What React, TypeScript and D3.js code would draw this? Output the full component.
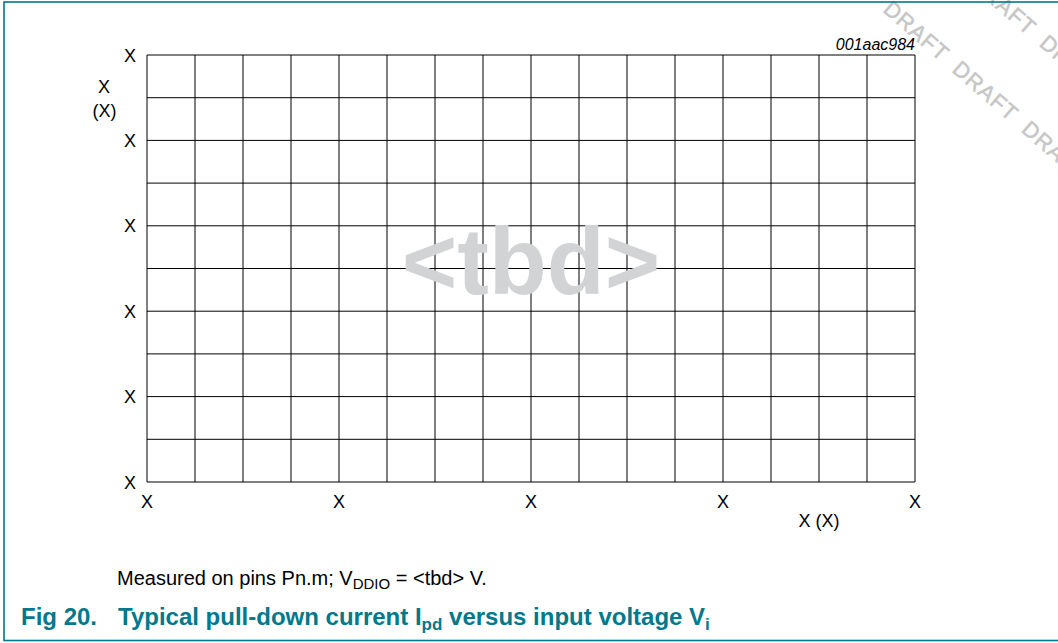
import React from "react";
import * as d3 from "d3";

const xTickLabels = ["X", "X", "X", "X", "X"];
const yTickLabels = ["X", "X", "X", "X", "X", "X"];
const xDivisions = d3.range(0, 17);
const yDivisions = d3.range(0, 11);
const xAxisTitle = "X (X)";
const yAxisTitle = ["X", "(X)"];
const figId = "001aac984";
const placeholder = "<tbd>";
const watermarkWords = ["DRAFT", "DRAFT", "DRAFT", "DRAFT"];

const W = 1058;
const H = 643;
const M = { left: 147, right: 915, top: 55, bottom: 482 };
const TEAL = "#00798c";
const FONT = "'Liberation Sans', Arial, Helvetica, sans-serif";

export default function App() {
  const x = d3.scaleLinear().domain([0, 16]).range([M.left, M.right]);
  const y = d3.scaleLinear().domain([0, 10]).range([M.bottom, M.top]);
  const xt = d3.scaleLinear().domain([0, xTickLabels.length - 1]).range([0, 16]);
  const yt = d3.scaleLinear().domain([0, yTickLabels.length - 1]).range([0, 10]);
  const wm = watermarkWords.join(" ");

  return (
    <svg
      width={W}
      height={H}
      style={{ position: "absolute", left: 0, top: 0, fontFamily: FONT }}
    >
      <rect x={0} y={0} width={W} height={H} fill="#fff" />
      {/* watermark */}
      <g
        fill="#c6c6c6"
        stroke="#c6c6c6"
        strokeWidth={0.5}
        fontSize={22}
        letterSpacing={1}
        wordSpacing={6.5}
      >
        <text transform="translate(882,11) rotate(41)">{wm}</text>
        <text transform="translate(900,-75) rotate(41)">{wm}</text>
      </g>
      {/* border */}
      <rect
        x={4}
        y={2}
        width={W + 20}
        height={638.5}
        fill="none"
        stroke={TEAL}
        strokeWidth={1.6}
      />
      {/* grid */}
      <g stroke="#000" strokeWidth={1}>
        {xDivisions.map((d) => (
          <line key={"v" + d} x1={x(d)} x2={x(d)} y1={M.top} y2={M.bottom} />
        ))}
        {yDivisions.map((d) => (
          <line key={"h" + d} x1={M.left} x2={M.right} y1={y(d)} y2={y(d)} />
        ))}
      </g>
      {/* placeholder */}
      <text
        x={(M.left + M.right) / 2}
        y={294}
        textAnchor="middle"
        fontSize={95}
        fontWeight="bold"
        fill="#d1d3d4"
      >
        {placeholder}
      </text>
      {/* ticks and axis titles */}
      <g fontSize={18} fill="#000">
        {yTickLabels.map((t, i) => (
          <text key={"yt" + i} x={136} y={y(yt(i)) + 6.5} textAnchor="end">
            {t}
          </text>
        ))}
        {xTickLabels.map((t, i) => (
          <text key={"xt" + i} x={x(xt(i))} y={508} textAnchor="middle">
            {t}
          </text>
        ))}
        <text x={104} y={92.5} textAnchor="middle">
          {yAxisTitle[0]}
        </text>
        <text x={104.5} y={117} textAnchor="middle">
          {yAxisTitle[1]}
        </text>
        <text x={819} y={527} textAnchor="middle">
          {xAxisTitle}
        </text>
      </g>
      <text x={915} y={50} textAnchor="end" fontSize={16} fontStyle="italic">
        {figId}
      </text>
      {/* captions */}
      <text x={117} y={585} fontSize={20} fill="#000">
        Measured on pins Pn.m; V
        <tspan fontSize={15} dy={4}>DDIO</tspan>
        <tspan dy={-4}> = &lt;tbd&gt; V.</tspan>
      </text>
      <text x={21} y={625} fontSize={24} fontWeight="bold" fill={TEAL}>
        Fig 20.
      </text>
      <text x={118} y={625} fontSize={24} fontWeight="bold" fill={TEAL}>
        Typical pull-down current I
        <tspan fontSize={17} dy={5}>pd</tspan>
        <tspan dy={-5}> versus input voltage V</tspan>
        <tspan fontSize={17} dy={5}>i</tspan>
      </text>
    </svg>
  );
}
